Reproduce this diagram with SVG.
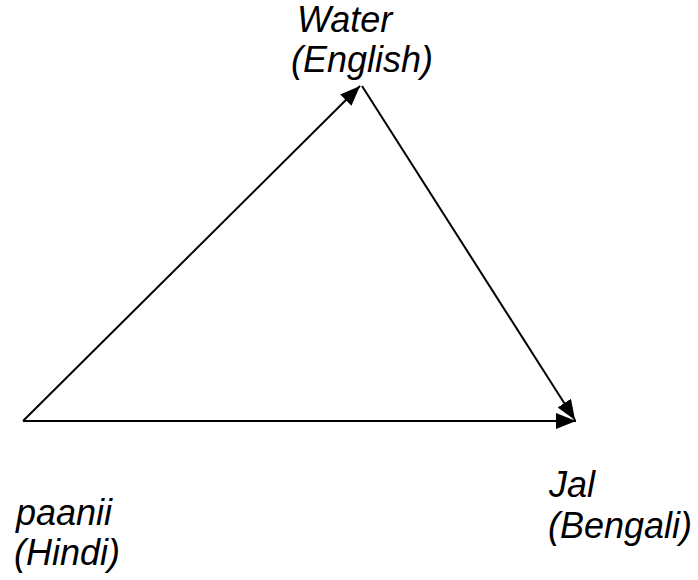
<svg xmlns="http://www.w3.org/2000/svg" width="698" height="580" viewBox="0 0 698 580">
<style>
text{font-family:"Liberation Sans",Arial,sans-serif;font-style:italic;font-size:36px;fill:#000}
.c{stroke:#000;stroke-width:2;fill:none}
</style>
<defs>
<marker id="b" viewBox="0 0 20 16" refX="20" refY="8" markerWidth="20" markerHeight="16" markerUnits="userSpaceOnUse" orient="auto"><path d="M0,0 L20,8 L0,16 z" fill="#000"/></marker>
</defs>
<rect width="698" height="580" fill="#fff"/>
<g id="connectors">
<line class="c" x1="23" y1="421" x2="360" y2="86" marker-end="url(#b)"/>
<line class="c" x1="362" y1="86" x2="575" y2="420" marker-end="url(#b)"/>
<line class="c" x1="23" y1="421" x2="576" y2="421" marker-end="url(#b)"/>
</g>
<g id="water"><text x="297" y="32">Water</text><text x="291" y="72">(English)</text></g>
<g id="jal"><text x="549" y="497">Jal</text><text x="548" y="538">(Bengali)</text></g>
<g id="paanii"><text x="16" y="525">paanii</text><text x="14" y="565">(Hindi)</text></g>
</svg>
